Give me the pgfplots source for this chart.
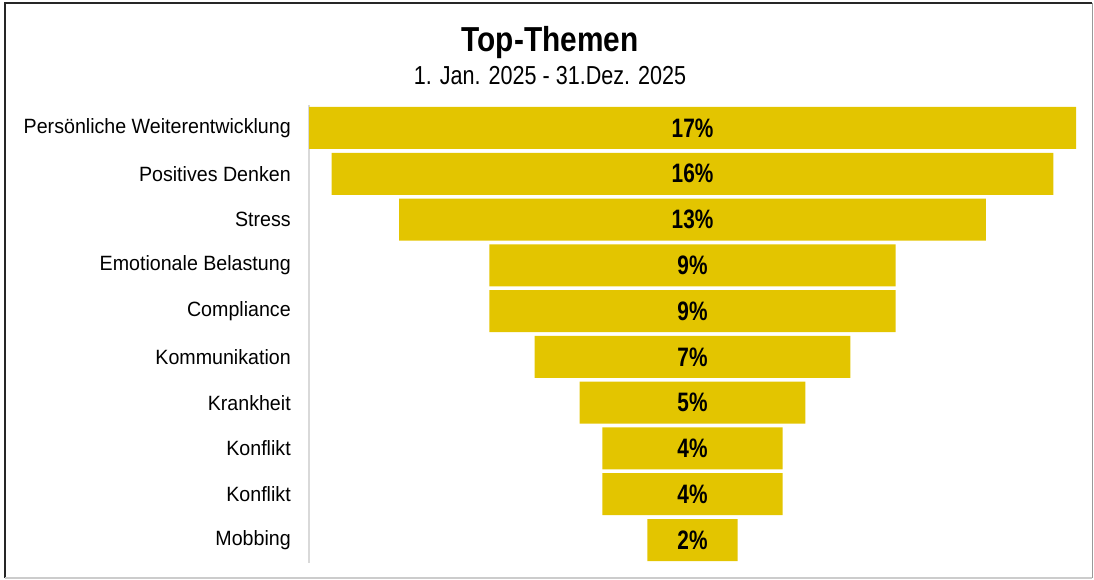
\documentclass[border=0pt]{standalone}
\usepackage{pgfplots}
\pgfplotsset{compat=1.18}
\usepackage{pgfplotstable}
\usepackage{fontspec}
\setmainfont{Liberation Sans}
\newfontfamily\titlefont{Liberation Sans}[FakeStretch=0.86]
\newfontfamily\subfont{Liberation Sans}[FakeStretch=0.83]
\newfontfamily\labfont{Liberation Sans}[FakeStretch=0.95]
\newfontfamily\pctfont{Liberation Sans}[FakeStretch=0.78]
\definecolor{baryellow}{RGB}{227,197,0}
\definecolor{axgray}{RGB}{217,217,217}

\pgfplotstableread{
y pad val
0 0   17
1 0.5 16
2 2   13
3 4   9
4 4   9
5 5   7
6 6   5
7 6.5 4
8 6.5 4
9 7.5 2
}\funneldata

\begin{document}
\begin{tikzpicture}
\path (0,0) rectangle (820.5pt,434.25pt);
% frame
\draw[black!85, line width=1.4pt] (3.9pt,0.75pt) -- (3.9pt,432pt) -- (819.2pt,432pt);
\draw[gray!80, line width=1pt] (819.2pt,432pt) -- (819.2pt,0.75pt);
\draw[gray!40, line width=1pt] (819.2pt,0.75pt) -- (3.9pt,0.75pt);
% title
\node[anchor=base, font=\titlefont\fontsize{26}{30}\selectfont\bfseries] at (412.5pt,395.25pt) {Top-Themen};
\node[anchor=base, font=\subfont\fontsize{19.5}{22}\selectfont] at (412.5pt,370.5pt) {1. Jan. 2025 - 31.Dez. 2025};
\begin{axis}[
  at={(231.75pt,12.08pt)}, anchor=south west,
  scale only axis,
  width=575.25pt, height=343.35pt,
  xbar stacked, bar width=31.5pt,
  xmin=0, xmax=17,
  ymin=-0.5, ymax=9.5, y dir=reverse,
  axis x line=none,
  axis y line*=left,
  y axis line style={draw=axgray, line width=1.5pt, -},
  ytick={0,...,9},
  yticklabels={Persönliche Weiterentwicklung, Positives Denken, Stress, Emotionale Belastung, Compliance, Kommunikation, Krankheit, Konflikt, Konflikt, Mobbing},
  yticklabel style={anchor=east, inner sep=0pt, xshift=-13.5pt, font=\labfont\fontsize{15.5}{18}\selectfont},
  major tick length=0pt,
  clip=false,
]
\addplot[draw=none, fill=none, forget plot] table[x=pad, y=y] {\funneldata};
\addplot[draw=none, fill=baryellow,
  point meta=explicit,
  nodes near coords={\pgfmathprintnumber[assume math mode=true]{\pgfplotspointmeta}\%},
  every node near coord/.append style={anchor=center, inner sep=0pt, font=\pctfont\fontsize{20}{24}\selectfont\bfseries, text=black},
] table[x=val, y=y, meta=val] {\funneldata};
\end{axis}
\end{tikzpicture}
\end{document}
